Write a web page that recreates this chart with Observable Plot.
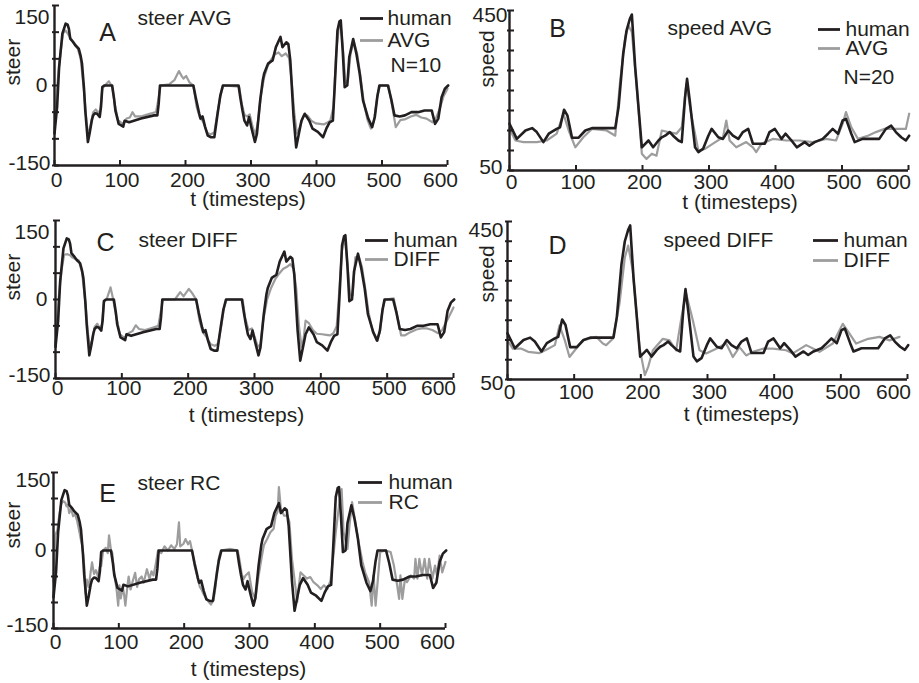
<!DOCTYPE html>
<html><head><meta charset="utf-8">
<script src="https://cdn.jsdelivr.net/npm/d3@7"></script>
<script src="https://cdn.jsdelivr.net/npm/@observablehq/plot@0.6"></script>
<style>
body{margin:0;background:#fff;}
#fig{position:relative;width:919px;height:683px;overflow:hidden;background:#fff;font-family:"Liberation Sans",Arial,sans-serif;}
#fig > div{position:absolute;}
</style></head><body><div id="fig"></div>
<script>
// ---------- data ----------
const tTicks = [0, 100, 200, 300, 400, 500, 600];
const steerTicks = [-150, -100, -50, 0, 50, 100, 150];
const steerLabels = [-150, 0, 150];
const speedTicks = [50, 100, 150, 200, 250, 300, 350, 400, 450];
const speedLabels = [50, 450];

const humanSteer = [[0,-90],[4,-40],[7,34],[12,97],[17,116],[20,114],[22,106],[24,88],[28,82],[32,75],[37,69],[40,55],[42,41],[45,-5],[47,-47],[51,-106],[54,-87],[57,-65],[59,-56],[62,-52],[65,-53],[69,-59],[71,-40],[73,-3],[76,0],[88,0],[91,-25],[93,-47],[98,-72],[105,-77],[107,-66],[114,-69],[132,-62],[152,-56],[157,-56],[159,-35],[161,0],[212,0],[216,-25],[221,-53],[223,-62],[226,-58],[230,-78],[234,-94],[239,-97],[244,-97],[249,-53],[253,-20],[257,0],[281,0],[284,-25],[287,-47],[290,-66],[294,-75],[297,-59],[301,-81],[306,-106],[309,-91],[314,-28],[318,10],[320,22],[326,41],[333,47],[338,72],[345,91],[348,72],[354,81],[357,78],[360,47],[365,-59],[369,-116],[373,-91],[377,-66],[382,-53],[389,-66],[394,-81],[402,-87],[410,-97],[415,-81],[420,-69],[425,-66],[428,3],[432,103],[435,120],[437,122],[440,66],[443,-3],[447,0],[450,53],[456,87],[461,59],[466,22],[471,-28],[479,-62],[485,-78],[489,-59],[493,-20],[496,0],[509,0],[514,-25],[519,-56],[527,-58],[535,-56],[545,-50],[555,-50],[565,-47],[576,-47],[581,-72],[586,-62],[591,-22],[596,-6],[601,0]];

const avgSteer = [[0,-80],[5,10],[9,60],[13,98],[17,103],[21,96],[25,88],[30,80],[35,72],[40,50],[45,-10],[49,-70],[52,-95],[55,-75],[59,-50],[63,-45],[67,-52],[70,-45],[73,-5],[77,0],[83,8],[88,-2],[92,-35],[97,-65],[104,-72],[110,-62],[115,-60],[119,-50],[123,-58],[132,-58],[140,-55],[148,-52],[155,-50],[158,-30],[162,0],[175,2],[183,10],[190,27],[194,18],[197,13],[201,18],[206,6],[212,0],[217,-40],[222,-60],[227,-68],[233,-88],[238,-92],[244,-88],[249,-50],[254,-15],[258,0],[282,-2],[286,-35],[290,-55],[294,-58],[298,-54],[303,-80],[307,-92],[311,-65],[315,-20],[320,15],[325,35],[330,47],[336,58],[342,62],[347,55],[353,60],[358,52],[362,10],[366,-50],[370,-90],[374,-80],[380,-58],[386,-56],[392,-66],[399,-71],[405,-72],[411,-73],[416,-70],[421,-66],[426,-40],[430,60],[434,108],[437,112],[441,60],[444,5],[448,10],[452,60],[457,82],[462,60],[467,18],[472,-30],[478,-65],[483,-81],[488,-65],[493,-18],[497,0],[510,0],[515,-35],[521,-78],[528,-65],[536,-63],[544,-58],[552,-55],[560,-60],[568,-62],[577,-69],[583,-60],[589,-40],[594,-20],[600,-6]];

const diffSteer = [[0,-85],[5,5],[9,55],[13,85],[18,86],[22,84],[25,80],[30,77],[35,74],[40,52],[45,-5],[49,-65],[52,-92],[55,-78],[59,-52],[63,-46],[67,-55],[70,-48],[73,-5],[77,0],[83,23],[87,0],[92,-35],[97,-66],[104,-73],[110,-64],[116,-60],[121,-49],[126,-56],[135,-58],[145,-54],[155,-50],[158,-28],[162,0],[180,0],[188,14],[193,6],[201,20],[206,12],[212,0],[217,-40],[222,-62],[228,-72],[234,-85],[240,-88],[245,-84],[250,-50],[254,-15],[258,0],[282,0],[286,-35],[291,-58],[296,-55],[300,-70],[305,-90],[309,-85],[313,-40],[319,0],[325,22],[331,38],[337,49],[343,58],[349,62],[354,67],[359,58],[363,20],[367,-50],[371,-90],[374,-75],[377,-40],[382,-45],[388,-58],[394,-65],[402,-66],[408,-67],[414,-68],[419,-64],[424,-50],[428,20],[432,95],[436,118],[440,70],[444,8],[448,8],[452,80],[457,82],[462,62],[467,20],[472,-25],[478,-60],[484,-78],[489,-62],[493,-18],[497,0],[510,2],[515,-30],[521,-68],[527,-68],[535,-62],[544,-57],[552,-55],[560,-55],[568,-58],[577,-64],[583,-58],[588,-45],[593,-33],[600,-15]];

const rcSteer = [[0,-60],[3,30],[6,40],[9,70],[12,90],[15,95],[18,92],[20,85],[22,88],[24,72],[27,80],[30,66],[33,70],[36,58],[39,40],[42,20],[44,10],[47,-29],[49,-83],[51,-56],[54,-70],[57,-40],[59,-23],[62,-45],[65,-38],[68,-50],[71,-30],[73,-30],[76,0],[80,5],[83,-5],[85,29],[88,0],[90,-5],[92,-35],[95,-61],[97,-80],[99,-106],[101,-67],[103,-92],[106,-70],[108,-85],[110,-106],[113,-70],[115,-50],[118,-75],[121,-60],[125,-43],[128,-70],[131,-55],[135,-50],[138,-62],[143,-36],[147,-55],[150,-40],[153,-48],[156,-30],[160,0],[165,-5],[170,8],[175,0],[180,10],[185,3],[189,12],[192,54],[194,8],[199,13],[202,22],[206,12],[209,18],[212,0],[216,-30],[220,-50],[224,-70],[227,-76],[230,-85],[233,-90],[237,-98],[241,-104],[245,-95],[248,-70],[250,-40],[253,-15],[256,0],[270,3],[282,0],[285,-20],[288,-45],[291,-55],[294,-48],[299,-42],[304,-80],[309,-93],[314,-48],[319,-10],[322,10],[327,22],[332,35],[337,42],[340,67],[343,75],[345,122],[348,80],[353,67],[358,67],[361,55],[365,-16],[370,-67],[373,-99],[375,-74],[378,-42],[383,-48],[388,-54],[393,-51],[398,-61],[404,-67],[409,-74],[414,-67],[419,-74],[424,-58],[429,-3],[432,35],[437,86],[441,118],[444,35],[450,3],[453,48],[457,93],[462,54],[467,16],[473,-22],[477,-42],[483,-61],[487,-106],[490,-48],[493,-106],[497,-48],[500,-3],[508,0],[516,-3],[521,-29],[526,-67],[529,-93],[531,-48],[534,-93],[538,-54],[541,-61],[547,-48],[552,-54],[554,-16],[557,-54],[560,-16],[564,-48],[568,-16],[572,-54],[575,-16],[580,-54],[584,-29],[587,-48],[591,-10],[595,-42],[600,-22]];

const humanSpeed = [[0,167],[11,129],[24,150],[34,156],[41,146],[51,121],[59,142],[71,154],[76,158],[82,202],[87,188],[94,132],[104,132],[114,150],[124,156],[159,156],[164,208],[171,342],[176,400],[181,429],[184,440],[189,308],[199,108],[209,125],[216,108],[224,125],[229,133],[234,137],[241,146],[246,137],[254,125],[259,121],[264,233],[267,279],[271,225],[279,108],[284,96],[291,104],[299,137],[304,154],[314,133],[321,129],[329,150],[336,137],[344,129],[351,146],[359,154],[366,117],[376,117],[384,117],[391,146],[399,154],[409,129],[415,142],[424,125],[432,108],[444,121],[451,112],[459,121],[471,129],[479,142],[486,154],[494,142],[501,175],[506,179],[514,142],[519,121],[531,129],[546,129],[556,129],[566,154],[574,162],[581,146],[589,133],[596,125],[601,137]];

const avgSpeed = [[0,154],[9,125],[21,121],[41,121],[56,125],[71,142],[81,192],[89,150],[99,108],[111,133],[124,154],[146,150],[159,137],[166,267],[174,383],[179,412],[184,396],[191,267],[199,92],[206,79],[214,92],[221,87],[229,150],[239,146],[251,142],[259,158],[266,267],[274,183],[284,100],[294,104],[306,117],[321,133],[326,175],[331,125],[341,108],[356,121],[366,108],[371,96],[379,117],[396,129],[416,125],[436,125],[456,121],[476,129],[491,125],[501,167],[506,196],[514,158],[524,129],[539,137],[551,146],[564,154],[576,154],[596,154],[601,192]];

const diffSpeed = [[0,149],[8,128],[21,128],[31,120],[48,117],[61,128],[71,137],[78,187],[86,149],[93,107],[101,124],[113,149],[133,158],[143,141],[148,137],[158,153],[168,242],[176,359],[181,389],[188,325],[198,132],[206,61],[211,82],[218,124],[233,153],[243,149],[253,124],[261,208],[268,267],[278,200],[288,124],[298,116],[313,128],[328,141],[338,107],[348,132],[358,111],[368,120],[383,128],[398,128],[418,124],[428,116],[448,137],[468,120],[488,141],[503,191],[513,166],[523,141],[541,153],[558,158],[573,149],[588,158]];

// ---------- drawing ----------
const INK = "#231f20";
const GRAY = "#9d9d9d";
const FS = 21;

function panel(c) {
  const [yMin, yMax] = c.yDomain;
  const toX = px => (px - c.x0) / (c.x1 - c.x0) * 600;
  const toY = py => yMax - (py - c.y0) / (c.y1 - c.y0) * (yMax - yMin);
  const note = (str, px, py, opts = {}) => Plot.text([str], {
    text: d => d, frameAnchor: "top-left", dx: px - c.x0, dy: py - c.y0,
    textAnchor: "start", lineAnchor: "middle", fontSize: FS, fill: INK, ...opts
  });
  const lastT = tTicks[tTicks.length - 1];
  const marks = [
    Plot.line(c.model, {x: d => d[0], y: d => d[1], stroke: GRAY, strokeWidth: 2.2}),
    Plot.line(c.human, {x: d => d[0], y: d => d[1], stroke: INK, strokeWidth: 2.6}),
    // axes
    Plot.ruleX([0], {y1: yMin, y2: yMax, stroke: INK, strokeWidth: 2.4}),
    Plot.ruleY([yMin], {x1: 0, x2: 600, stroke: INK, strokeWidth: 2.4}),
    Plot.ruleY(c.yTicks, {y: d => d, x1: toX(c.x0 - 2), x2: toX(c.x0 + 5), stroke: INK, strokeWidth: 2}),
    Plot.ruleX(tTicks, {x: d => d, y1: yMin, y2: toY(c.y1 - 5), stroke: INK, strokeWidth: 2}),
    Plot.text(tTicks.filter(t => t !== lastT), {x: d => d, y: yMin, dx: 2, dy: c.xLabDy, text: d => String(d), fontSize: FS, fill: INK, lineAnchor: "middle"}),
    Plot.text([lastT], {x: d => d, y: yMin, dx: c.lastDx, dy: c.xLabDy, text: d => String(d), fontSize: FS, fill: INK, lineAnchor: "middle"}),
    ...c.yLabels.map(v => Plot.text([v], {x: 0, y: v, dx: c.yLabDx[v], dy: c.yLabDy[v], text: d => String(d),
      textAnchor: "end", lineAnchor: "middle", fontSize: FS, fill: INK})),
    Plot.text(["t (timesteps)"], {text: d => d, frameAnchor: "bottom", dx: c.xt[0], dy: c.xt[1], lineAnchor: "middle", fontSize: FS, fill: INK}),
    Plot.text([c.yTitle], {text: d => d, frameAnchor: "left", dx: c.yt[0], dy: c.yt[1], rotate: -90, lineAnchor: "middle", fontSize: FS, fill: INK}),
    note(c.letter, c.letterPos[0], c.letterPos[1], {textAnchor: "middle", fontSize: 25}),
    note(c.title, c.titlePos[0], c.titlePos[1]),
    Plot.ruleY([toY(c.leg.y1)], {x1: toX(c.leg.l0), x2: toX(c.leg.l1), stroke: INK, strokeWidth: 2.8}),
    Plot.ruleY([toY(c.leg.y2)], {x1: toX(c.leg.l0), x2: toX(c.leg.l1), stroke: GRAY, strokeWidth: 2.8}),
    note("human", c.leg.tx, c.leg.y1),
    note(c.modelName, c.leg.tx, c.leg.y2)
  ];
  if (c.extra) marks.push(note(c.extra[0], c.extra[1], c.extra[2]));
  const svg = Plot.plot({
    width: c.width, height: c.height,
    marginLeft: c.x0, marginRight: c.width - c.x1, marginTop: c.y0, marginBottom: c.height - c.y1,
    x: {domain: [0, 600], axis: null},
    y: {domain: c.yDomain, axis: null},
    style: {fontFamily: '"Liberation Sans", Arial, sans-serif', overflow: "visible", background: "transparent"},
    marks
  });
  const holder = document.createElement("div");
  holder.style.left = c.left + "px";
  holder.style.top = c.top + "px";
  holder.appendChild(svg);
  document.getElementById("fig").appendChild(holder);
}

panel({left: 0, top: 0, width: 460, height: 215, x0: 54, x1: 447, y0: 5, y1: 165,
  yDomain: [-150, 150], yTicks: steerTicks, yLabels: steerLabels,
  yLabDx: {"-150": -4, "0": -7, "150": -5}, yLabDy: {"-150": -2, "0": 0, "150": 12},
  xLabDy: 15, lastDx: -7, xt: [-3, 34], yTitle: "steer", yt: [-41, 0],
  letter: "A", letterPos: [107, 32], title: "steer AVG", titlePos: [137, 18],
  leg: {l0: 360, l1: 383, tx: 387, y1: 18, y2: 40}, modelName: "AVG", extra: ["N=10", 390, 65],
  human: humanSteer, model: avgSteer});

panel({left: 460, top: 0, width: 459, height: 215, x0: 49, x1: 448, y0: 10, y1: 170,
  yDomain: [50, 450], yTicks: speedTicks, yLabels: speedLabels,
  yLabDx: {"50": -7, "450": -2}, yLabDy: {"50": -3, "450": 5},
  xLabDy: 12, lastDx: -15, xt: [31, 32], yTitle: "speed", yt: [-22, -3],
  letter: "B", letterPos: [97, 28], title: "speed AVG", titlePos: [207, 28],
  leg: {l0: 358, l1: 380, tx: 385, y1: 29, y2: 48}, modelName: "AVG", extra: ["N=20", 383, 77],
  human: humanSpeed, model: avgSpeed});

panel({left: 0, top: 215, width: 460, height: 215, x0: 55, x1: 453, y0: 5, y1: 163,
  yDomain: [-150, 150], yTicks: steerTicks, yLabels: steerLabels,
  yLabDx: {"-150": -5, "0": -8, "150": -6}, yLabDy: {"-150": -3, "0": 0, "150": 12},
  xLabDy: 10, lastDx: -15, xt: [-8, 37], yTitle: "steer", yt: [-42, 1],
  letter: "C", letterPos: [105, 27], title: "steer DIFF", titlePos: [138, 25],
  leg: {l0: 365, l1: 388, tx: 393, y1: 25, y2: 44}, modelName: "DIFF",
  human: humanSteer, model: diffSteer});

panel({left: 460, top: 215, width: 459, height: 215, x0: 47, x1: 447, y0: 6, y1: 164,
  yDomain: [50, 450], yTicks: speedTicks, yLabels: speedLabels,
  yLabDx: {"50": -4, "450": -4}, yLabDy: {"50": 4, "450": 9},
  xLabDy: 13, lastDx: -14, xt: [34, 35], yTitle: "speed", yt: [-20, 2],
  letter: "D", letterPos: [97, 30], title: "speed DIFF", titlePos: [203, 25],
  leg: {l0: 353, l1: 378, tx: 383, y1: 25, y2: 45}, modelName: "DIFF",
  human: humanSpeed, model: diffSpeed});

panel({left: 0, top: 430, width: 460, height: 253, x0: 53, x1: 445, y0: 42, y1: 198,
  yDomain: [-150, 150], yTicks: steerTicks, yLabels: steerLabels,
  yLabDx: {"-150": -5, "0": -7, "150": -3}, yLabDy: {"-150": -3, "0": 0, "150": 8},
  xLabDy: 14, lastDx: -8, xt: [-1, 41], yTitle: "steer", yt: [-40, -2],
  letter: "E", letterPos: [107, 63], title: "steer RC", titlePos: [137, 53],
  leg: {l0: 358, l1: 382, tx: 388, y1: 52, y2: 72}, modelName: "RC",
  human: humanSteer, model: rcSteer});
</script>
</body></html>
